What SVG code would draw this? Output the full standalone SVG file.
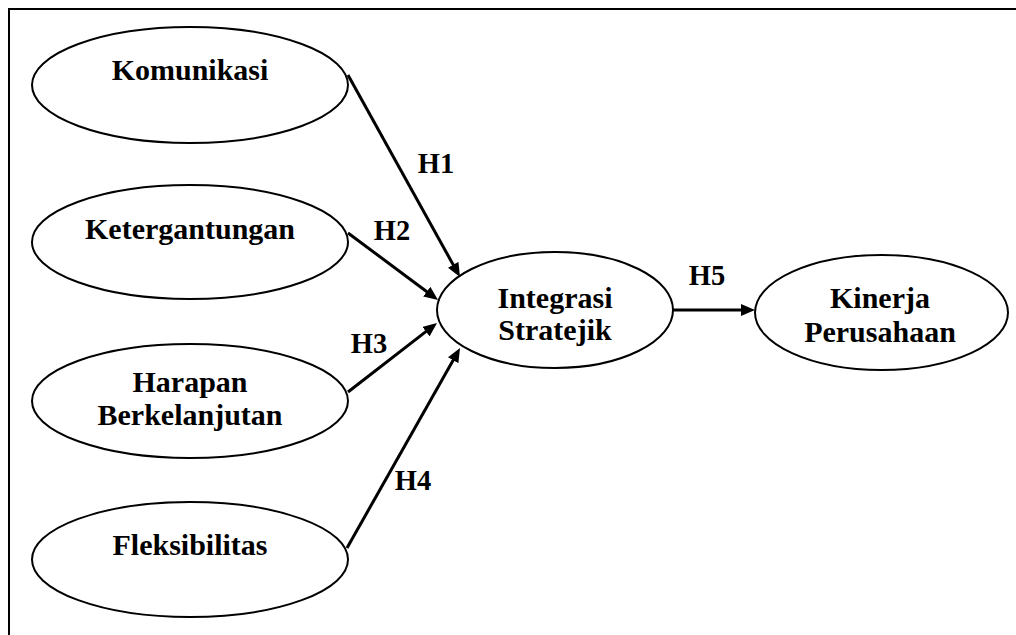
<svg xmlns="http://www.w3.org/2000/svg" width="1016" height="635" viewBox="0 0 1016 635">
  <style>
    .node { fill: #fff; stroke: #000; stroke-width: 2; }
    .label { font-family: "Liberation Serif", "Times New Roman", serif; font-weight: bold; font-size: 30px; text-anchor: middle; fill: #000; }
    .hyp { font-family: "Liberation Serif", "Times New Roman", serif; font-weight: bold; font-size: 28.5px; text-anchor: middle; fill: #000; }
    .edge { fill: none; stroke: #000; stroke-width: 3; marker-end: url(#arrow); }
  </style>
  <defs>
    <marker id="arrow" markerUnits="userSpaceOnUse" markerWidth="14" markerHeight="12" refX="6" refY="6" orient="auto">
      <path d="M0,0 L14,6 L0,12 z" fill="#000"/>
    </marker>
  </defs>

  <rect x="0" y="0" width="1016" height="635" fill="#fff"/>
  <!-- outer frame (right and bottom edges run off the canvas) -->
  <rect x="9" y="9" width="1100" height="700" fill="none" stroke="#000" stroke-width="2"/>

  <g id="connectors">
    <line class="edge" x1="348" y1="75" x2="456.1" y2="270"/>
    <line class="edge" x1="348" y1="233" x2="431.6" y2="295.2"/>
    <line class="edge" x1="348" y1="392" x2="430.7" y2="327.9"/>
    <line class="edge" x1="347" y1="548" x2="456.1" y2="355"/>
    <line class="edge" x1="672" y1="310" x2="747" y2="310"/>
    <text class="hyp" x="436" y="173">H1</text>
    <text class="hyp" x="392" y="240">H2</text>
    <text class="hyp" x="369" y="353">H3</text>
    <text class="hyp" x="413" y="490">H4</text>
    <text class="hyp" x="707" y="285">H5</text>
  </g>

  <g id="komunikasi">
    <ellipse class="node" cx="190" cy="85" rx="158" ry="58"/>
    <text class="label" x="190" y="80">Komunikasi</text>
  </g>
  <g id="ketergantungan">
    <ellipse class="node" cx="190" cy="242" rx="158" ry="57"/>
    <text class="label" x="190" y="239">Ketergantungan</text>
  </g>
  <g id="harapan-berkelanjutan">
    <ellipse class="node" cx="190" cy="401" rx="158" ry="57"/>
    <text class="label" x="190" y="392">Harapan</text>
    <text class="label" x="190" y="425">Berkelanjutan</text>
  </g>
  <g id="fleksibilitas">
    <ellipse class="node" cx="190" cy="559.5" rx="158" ry="57.5"/>
    <text class="label" x="190" y="555">Fleksibilitas</text>
  </g>
  <g id="integrasi-stratejik">
    <ellipse class="node" cx="555" cy="310" rx="118" ry="58"/>
    <text class="label" x="555" y="308">Integrasi</text>
    <text class="label" x="555" y="340">Stratejik</text>
  </g>
  <g id="kinerja-perusahaan">
    <ellipse class="node" cx="881.5" cy="312.5" rx="126.5" ry="57.5"/>
    <text class="label" x="880" y="308">Kinerja</text>
    <text class="label" x="880" y="342">Perusahaan</text>
  </g>
</svg>
